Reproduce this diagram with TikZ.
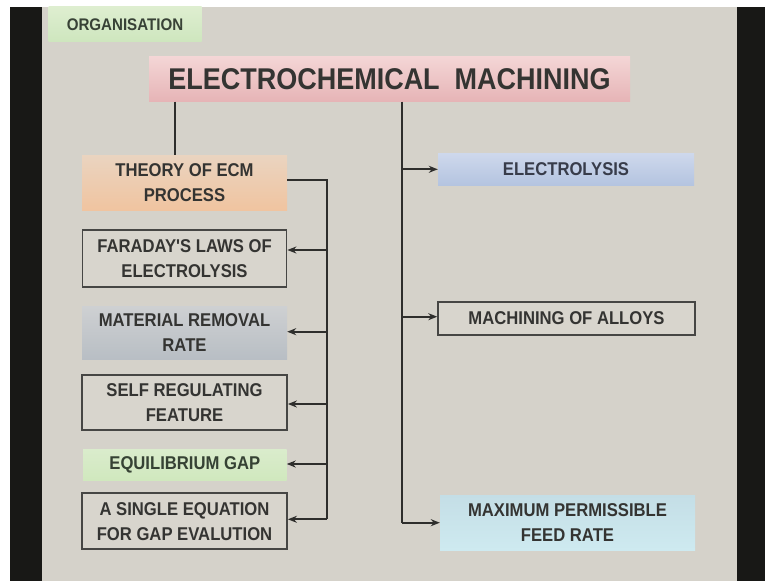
\documentclass[tikz,border=0pt]{standalone}
\usepackage{fontspec}
\newfontfamily\slidefont{Liberation Sans}[FakeStretch=0.9]
\usetikzlibrary{arrows.meta}

\definecolor{slidebg}{RGB}{213,210,202}
\definecolor{frameblack}{RGB}{24,24,22}
\definecolor{inkgrey}{RGB}{52,52,50}
\definecolor{linegrey}{RGB}{46,46,44}
\definecolor{edgegrey}{RGB}{70,70,68}
% box fills
\definecolor{orgtop}{RGB}{222,238,208}
\definecolor{orgbot}{RGB}{206,230,190}
\definecolor{orgink}{RGB}{56,66,54}
\definecolor{titletop}{RGB}{244,214,214}
\definecolor{titlebot}{RGB}{230,180,182}
\definecolor{theorytop}{RGB}{234,212,192}
\definecolor{theorybot}{RGB}{240,196,160}
\definecolor{mrrtop}{RGB}{206,208,210}
\definecolor{mrrbot}{RGB}{184,190,196}
\definecolor{gaptop}{RGB}{218,236,204}
\definecolor{gapbot}{RGB}{208,232,190}
\definecolor{gapink}{RGB}{54,66,52}
\definecolor{elytop}{RGB}{206,216,236}
\definecolor{elybot}{RGB}{180,196,224}
\definecolor{elyink}{RGB}{56,60,74}
\definecolor{feedtop}{RGB}{196,222,230}
\definecolor{feedbot}{RGB}{206,234,240}

\tikzset{
  box/.style={inner sep=0pt, align=center, text=inkgrey,
    font=\slidefont\bfseries\fontsize{18.5}{25}\selectfont},
  framedbox/.style={box, draw=edgegrey, line width=1.8pt, fill=slidebg!94!white},
  bus/.style={draw=linegrey, line width=2.2pt},
  arr/.style={bus, -{Stealth[length=9pt,width=7pt]}},
}

\begin{document}
\begin{tikzpicture}[x=1pt,y=-1pt]
  % frame of the slide
  \useasboundingbox (0,0) rectangle (765,581);
  \fill[white] (0,0) rectangle (765,581);
  \fill[frameblack] (10,7) rectangle (42,581);
  \fill[slidebg] (42,7) rectangle (737,581);
  \fill[frameblack] (737,7) rectangle (765,581);

  % header tag
  \node[box, minimum width=153pt, minimum height=35pt,
        top color=orgtop, bottom color=orgbot, text=orgink,
        font=\slidefont\bfseries\fontsize{16.8}{20}\selectfont] (org) at (125,24.3) {ORGANISATION};

  % title
  \node[box, minimum width=481pt, minimum height=45.5pt,
        top color=titletop, bottom color=titlebot,
        font=\slidefont\bfseries\fontsize{30}{34}\selectfont] (title) at (389.5,78.8)
        {ELECTROCHEMICAL\ \ MACHINING};

  % left column
  \node[box, minimum width=205pt, minimum height=55pt,
        top color=theorytop, bottom color=theorybot] (theory) at (184.5,182.5)
        {THEORY OF ECM\\PROCESS};
  \node[framedbox, minimum width=204pt, minimum height=57pt] (faraday) at (184.5,258.5)
        {FARADAY'S LAWS OF\\ELECTROLYSIS};
  \node[box, minimum width=205pt, minimum height=52.6pt,
        top color=mrrtop, bottom color=mrrbot] (mrr) at (184.5,333)
        {MATERIAL REMOVAL\\RATE};
  \node[framedbox, minimum width=205pt, minimum height=55pt] (selfreg) at (184.5,402.5)
        {SELF REGULATING\\FEATURE};
  \node[box, minimum width=203.5pt, minimum height=30.7pt,
        top color=gaptop, bottom color=gapbot, text=gapink] (eqgap) at (184.8,464.7)
        {EQUILIBRIUM GAP};
  \node[framedbox, minimum width=205pt, minimum height=56pt] (single) at (184.5,521.3)
        {A SINGLE EQUATION\\FOR GAP EVALUTION};

  % right column
  \node[box, minimum width=256pt, minimum height=31.7pt,
        top color=elytop, bottom color=elybot, text=elyink] (electrolysis) at (566,169.2)
        {ELECTROLYSIS};
  \node[framedbox, minimum width=256.7pt, minimum height=33.3pt] (alloys) at (566.5,318.3)
        {MACHINING OF ALLOYS};
  \node[box, minimum width=255pt, minimum height=55pt,
        top color=feedtop, bottom color=feedbot] (feed) at (567.5,522.5)
        {MAXIMUM PERMISSIBLE\\FEED RATE};

  % bus coordinates
  \coordinate (lbtop) at (327,180);
  \coordinate (lb1) at (327,250);
  \coordinate (lb2) at (327,331.7);
  \coordinate (lb3) at (327,404);
  \coordinate (lb4) at (327,464);
  \coordinate (lb5) at (327,519.3);
  \coordinate (rbtop) at (401.7,101.5);
  \coordinate (rb1) at (401.7,169.3);
  \coordinate (rb2) at (401.7,316.7);
  \coordinate (rb3) at (401.7,522.7);
  \coordinate (ltop) at (175,101.5);

  % title to left column
  \draw[bus] (ltop) -- (ltop |- theory.north);

  % left bus
  \draw[bus] (lbtop -| theory.east) -- (lbtop) -- (lb5);
  \draw[arr] (lb1) -- (lb1 -| faraday.east);
  \draw[arr] (lb2) -- (lb2 -| mrr.east);
  \draw[arr] (lb3) -- (lb3 -| selfreg.east);
  \draw[arr] (lb4) -- (lb4 -| eqgap.east);
  \draw[arr] (lb5) -- (lb5 -| single.east);

  % right bus
  \draw[bus] (rbtop) -- (rb3);
  \draw[arr] (rb1) -- (rb1 -| electrolysis.west);
  \draw[arr] (rb2) -- (rb2 -| alloys.west);
  \draw[arr] (rb3) -- (rb3 -| feed.west);
\end{tikzpicture}
\end{document}
